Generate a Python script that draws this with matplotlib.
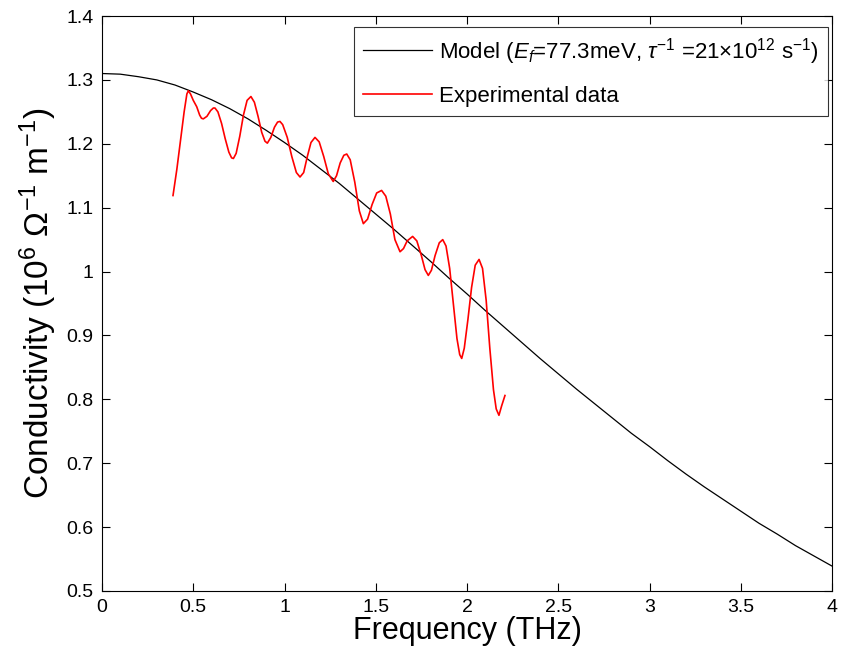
import matplotlib
matplotlib.use("Agg")
import matplotlib.pyplot as plt

plt.rcParams["font.family"] = ["Liberation Sans", "DejaVu Sans"]
plt.rcParams["mathtext.fontset"] = "custom"
plt.rcParams["mathtext.rm"] = "Liberation Sans"
plt.rcParams["mathtext.it"] = "Liberation Sans:italic"
plt.rcParams["mathtext.bf"] = "Liberation Sans:bold"

# Drude model curve (THz, 10^6 S/m)
model_freq = [0.0, 0.1, 0.2, 0.3, 0.4, 0.5, 0.6, 0.7, 0.8, 0.9, 1.0,
              1.1, 1.2, 1.3, 1.4, 1.5, 1.6, 1.7, 1.8, 1.9, 2.0,
              2.1, 2.2, 2.3, 2.4, 2.5, 2.6, 2.7, 2.8, 2.9, 3.0,
              3.1, 3.2, 3.3, 3.4, 3.5, 3.6, 3.7, 3.8, 3.9, 4.0]
model_sigma = [1.310, 1.309, 1.305, 1.300, 1.292, 1.281, 1.269, 1.255,
               1.239, 1.221, 1.202, 1.182, 1.160, 1.138, 1.114, 1.090,
               1.066, 1.041, 1.016, 0.990, 0.965, 0.939, 0.914, 0.889,
               0.864, 0.840, 0.816, 0.793, 0.770, 0.747, 0.726, 0.704,
               0.683, 0.663, 0.644, 0.625, 0.606, 0.589, 0.571, 0.555,
               0.539]

# Experimental trace
exp_freq = [0.389, 0.410, 0.430, 0.450, 0.465, 0.473, 0.485, 0.500, 0.519,
            0.535, 0.545, 0.555, 0.575, 0.595, 0.610, 0.619, 0.635, 0.655,
            0.675, 0.695, 0.710, 0.720, 0.735, 0.755, 0.775, 0.795, 0.816,
            0.835, 0.855, 0.875, 0.893, 0.906, 0.925, 0.945, 0.962, 0.975,
            0.990, 1.015, 1.040, 1.065, 1.085, 1.105, 1.125, 1.145, 1.167,
            1.190, 1.215, 1.240, 1.267, 1.285, 1.305, 1.325, 1.341, 1.360,
            1.385, 1.410, 1.432, 1.455, 1.480, 1.505, 1.532, 1.555, 1.580,
            1.605, 1.633, 1.652, 1.672, 1.702, 1.725, 1.750, 1.770, 1.788,
            1.805, 1.825, 1.848, 1.867, 1.885, 1.905, 1.925, 1.945, 1.960,
            1.971, 1.985, 2.005, 2.025, 2.045, 2.066, 2.085, 2.105, 2.125,
            2.145, 2.160, 2.175, 2.190, 2.208]
exp_sigma = [1.119, 1.160, 1.205, 1.250, 1.278, 1.283, 1.278, 1.268, 1.258,
             1.245, 1.240, 1.239, 1.243, 1.252, 1.256, 1.256, 1.250, 1.232,
             1.208, 1.187, 1.178, 1.177, 1.185, 1.212, 1.245, 1.268, 1.274,
             1.265, 1.243, 1.218, 1.204, 1.201, 1.210, 1.226, 1.234, 1.235,
             1.230, 1.210, 1.180, 1.155, 1.148, 1.155, 1.180, 1.202, 1.210,
             1.203, 1.180, 1.153, 1.141, 1.150, 1.170, 1.182, 1.184, 1.175,
             1.140, 1.095, 1.075, 1.082, 1.105, 1.123, 1.127, 1.118, 1.090,
             1.050, 1.031, 1.036, 1.048, 1.055, 1.048, 1.025, 1.003, 0.994,
             1.002, 1.025, 1.045, 1.050, 1.040, 1.005, 0.950, 0.895, 0.870,
             0.864, 0.880, 0.925, 0.975, 1.010, 1.019, 1.005, 0.955, 0.880,
             0.815, 0.785, 0.775, 0.790, 0.806]

x_ticks = [0, 0.5, 1, 1.5, 2, 2.5, 3, 3.5, 4]
x_tick_labels = ["0", "0.5", "1", "1.5", "2", "2.5", "3", "3.5", "4"]
y_ticks = [0.5, 0.6, 0.7, 0.8, 0.9, 1.0, 1.1, 1.2, 1.3, 1.4]
y_tick_labels = ["0.5", "0.6", "0.7", "0.8", "0.9", "1", "1.1", "1.2", "1.3", "1.4"]

fig = plt.figure(figsize=(8.41, 6.65), dpi=100)
ax = fig.add_axes([0.1213, 0.1113, 0.868, 0.8646])

ax.plot(model_freq, model_sigma, color="black", lw=0.9,
        label=r"Model ($E_f$=77.3meV, $\tau^{-1}$ =21$\times$10$^{12}$ s$^{-1}$)")
ax.plot(exp_freq, exp_sigma, color="red", lw=1.2, label="Experimental data")

ax.set_xlim(0, 4)
ax.set_ylim(0.5, 1.4)
ax.set_xticks(x_ticks)
ax.set_xticklabels(x_tick_labels)
ax.set_yticks(y_ticks)
ax.set_yticklabels(y_tick_labels)
ax.tick_params(direction="in", length=6, width=0.8, top=True, right=True,
               labelsize=14, pad=6)
for spine in ax.spines.values():
    spine.set_linewidth(0.8)

ax.set_xlabel("Frequency (THz)", fontsize=22, labelpad=0)
ax.set_ylabel(r"Conductivity (10$^{6}$ $\Omega^{-1}$ m$^{-1}$)", fontsize=24, labelpad=5)

leg = ax.legend(loc="upper right", bbox_to_anchor=(0.9945, 0.981), fontsize=16,
                frameon=True, fancybox=False, edgecolor="black",
                handlelength=3.1, handletextpad=0.35, borderaxespad=0.0,
                labelspacing=0.85)
leg.get_frame().set_linewidth(0.8)

fig.savefig("out.png", dpi=100)
